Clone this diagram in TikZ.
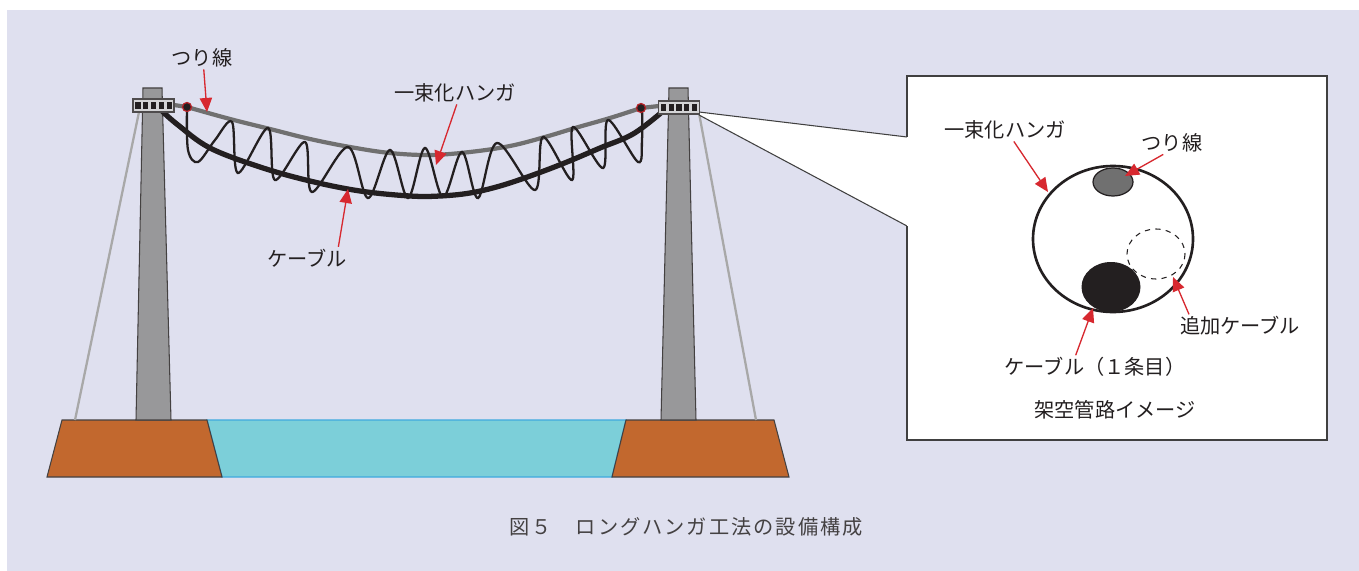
\documentclass[tikz,border=0pt]{standalone}
\usepackage{fontspec}
\newfontfamily\jp{Noto Sans CJK JP}
\newfontfamily\jpcap[LetterSpace=10]{Noto Sans CJK JP}
\usetikzlibrary{arrows.meta}

\definecolor{bgpanel}{HTML}{DFE0EF}
\definecolor{towergrey}{HTML}{98989A}
\definecolor{basebrown}{HTML}{C2682E}
\definecolor{waterfill}{HTML}{7CCFD9}
\definecolor{waterline}{HTML}{3FA9DF}
\definecolor{arrowred}{HTML}{D7282F}
\definecolor{ink}{HTML}{231F20}
\definecolor{wiregrey}{HTML}{707070}
\definecolor{staygrey}{HTML}{A8A8A8}
\definecolor{bracketfill}{HTML}{D4D4D6}
\definecolor{framegrey}{HTML}{404040}

\tikzset{
  lbl/.style={font=\jp\fontsize{11.5}{14}\selectfont, text=ink, inner sep=1pt},
  redarrow/.style={draw=arrowred, line width=0.75pt, -{Triangle[length=8pt,width=7pt]}},
  towerbody/.style={fill=towergrey, draw=ink!85, line width=0.6pt},
  basebody/.style={fill=basebrown, draw=ink!85, line width=0.6pt},
  staywire/.style={draw=staygrey, line width=1.3pt},
  messenger/.style={draw=wiregrey, line width=2.4pt},
  mainline/.style={draw=ink, line width=3pt},
  lashing/.style={draw=ink, line width=1.3pt},
  clampdot/.style={fill=ink, draw=arrowred!85!black, line width=0.7pt},
  towerhead/.pic={
    \filldraw[fill=bracketfill, draw=ink!80, line width=0.7pt] (-20.5,-6.5) rectangle (20.5,6.5);
    \foreach \i in {-2,...,2}
      \fill[ink] (\i*7.8-2.6,-3.6) rectangle (\i*7.8+2.6,3.6);
  }
}

\begin{document}
\begin{tikzpicture}[x=0.02cm,y=-0.02cm]
\useasboundingbox (0,0) rectangle (1359,571);
\fill[white] (0,0) rectangle (1359,571);
\fill[bgpanel] (7,10) rectangle (1359,571);

% river and the two abutments
\filldraw[fill=waterfill, draw=waterline, line width=0.8pt]
  (207,420) -- (626,420) -- (612,477) -- (222,477) -- cycle;
\draw[basebody] (62,420) -- (207,420) -- (222,477) -- (47,477) -- cycle;
\draw[basebody] (626,420) -- (774,420) -- (789,477) -- (612,477) -- cycle;

% stay wires
\draw[staywire] (139,112) -- (75,420);
\draw[staywire] (699,113) -- (756,420);

% towers
\draw[towerbody] (143,88) -- (162,88) -- (171,420) -- (136,420) -- cycle;
\draw[towerbody] (669,88) -- (688,88) -- (696,420) -- (661,420) -- cycle;

% callout wedge towards the cross-section
\fill[white] (699,112) -- (907,137) -- (907,226) -- (699,115) -- cycle;
\draw[framegrey, line width=0.6pt] (699,112) -- (907,137);
\draw[framegrey, line width=0.6pt] (699,115) -- (907,226);

% suspension (messenger) wire
\draw[messenger] (174,105) -- (187,107)
  plot[smooth, tension=0.6] coordinates {(187,107) (230,119) (270,129) (310,139) (350,147)
    (390,153) (430,155) (470,152) (510,146) (545,137) (575,128) (610,118) (641,108)}
  -- (659,106);

% aerial cable
\draw[mainline] plot[smooth, tension=0.6] coordinates {(162,111) (178,125) (210,148) (260,167)
  (310,181) (360,191) (410,196) (440,196) (470,193) (500,186) (533,175) (567,162)
  (600,148) (633,134) (662,112)};

% spiral lashing hanger
\draw[lashing] plot[smooth, tension=0.55] coordinates {(187,107) (188,150) (198,162) (215,140) (232,122)
  (238,173) (268,128) (275,180) (305,142) (312,192) (348,147) (368,198) (390,150)
  (408,198) (425,148) (443,197) (462,152) (478,198) (497,143) (535,190) (543,137)
  (572,180) (573,127) (603,168) (608,120) (638,162) (642,140) (642,108)};

% clamps and tower heads
\filldraw[clampdot] (187,107) circle [radius=4.5];
\filldraw[clampdot] (641,108) circle [radius=4.5];
\pic at (153.5,105.5) {towerhead};
\pic at (679,107.5) {towerhead};

% labels on the span
\node[lbl] (hdMsg) at (202,58) {つり線};
\node[lbl] (hdHanger) at (455,93) {一束化ハンガ};
\node[lbl] (hdCable) at (307,258) {ケーブル};
\coordinate (tipMsg) at (207,112);
\coordinate (tipHanger) at (436,165);
\coordinate (tipCable) at (348,189);
\draw[redarrow] ([xshift=1pt]hdMsg.south) -- (tipMsg);
\draw[redarrow] ([xshift=1pt]hdHanger.south) -- (tipHanger);
\draw[redarrow] ([xshift=-6pt]hdCable.north east) -- (tipCable);

% cross-section of the aerial route
\fill[white] (907,76) rectangle (1327,440);
\draw[framegrey, line width=0.8pt] (907,137) -- (907,76) -- (1327,76) -- (1327,440) -- (907,440) -- (907,226);
\draw[ink, line width=1.5pt] (1113,239) ellipse [x radius=80, y radius=73];
\filldraw[fill=wiregrey, draw=ink, line width=0.7pt] (1113,182) ellipse [x radius=20, y radius=14];
\draw[ink, dashed, line width=0.6pt] (1156,254) ellipse [x radius=29, y radius=25];
\fill[ink] (1111,287) ellipse [x radius=29.5, y radius=25];

\node[lbl] (csHanger) at (1005,130) {一束化ハンガ};
\node[lbl] (csMsg) at (1172,143) {つり線};
\node[lbl] (csAdd) at (1240,326) {追加ケーブル};
\node[lbl] (csCable) at (1095,367) {ケーブル（１条目）};
\node[lbl] (csTitle) at (1115,410) {架空管路イメージ};
\coordinate (tipCsHanger) at (1048,192);
\coordinate (tipCsMsg) at (1125,176);
\coordinate (tipCsAdd) at (1173,277);
\coordinate (tipCsCable) at (1093,308);
\draw[redarrow] ([xshift=5pt]csHanger.south) -- (tipCsHanger);
\draw[redarrow] ([xshift=-5pt]csMsg.south) -- (tipCsMsg);
\draw[redarrow] ([xshift=-29pt]csAdd.north) -- (tipCsAdd);
\draw[redarrow] ([xshift=-11pt]csCable.north) -- (tipCsCable);

% figure caption
\node[font=\jpcap\fontsize{11.5}{14}\selectfont, text=ink!85] (caption) at (686,527)
  {図５　ロングハンガ工法の設備構成};
\end{tikzpicture}
\end{document}
